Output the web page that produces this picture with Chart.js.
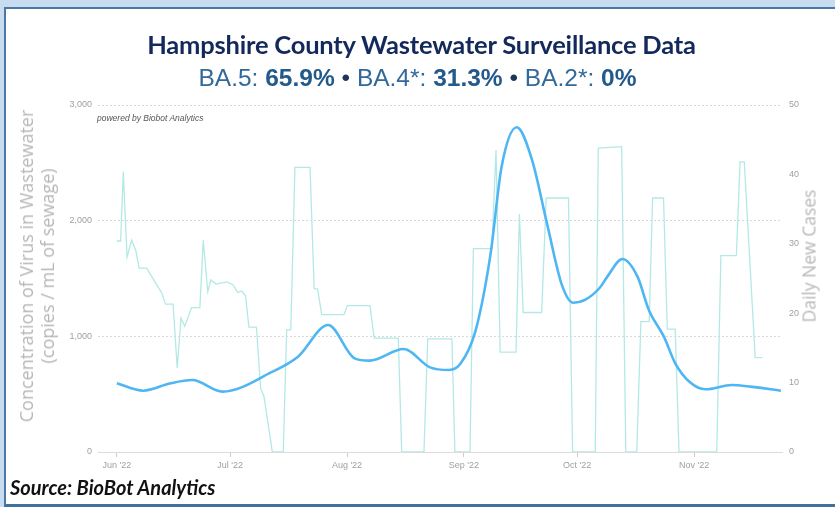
<!DOCTYPE html>
<html>
<head>
<meta charset="utf-8">
<script src="https://cdn.jsdelivr.net/npm/chart.js@4/dist/chart.umd.min.js"></script>
<style>
  html, body { margin: 0; padding: 0; }
  body { width: 835px; height: 507px; background: #c7dcef; position: relative; overflow: hidden; }
  #panel { position: absolute; left: 4px; top: 7px; width: 829px; height: 495px; background: #fff;
           border-left: 2px solid #4a77a3; border-top: 2px solid #4a77a3; border-bottom: 3px solid #41709c; }
  #chart { position: absolute; left: 0; top: 0; }
  .txt { position: absolute; white-space: nowrap; }
  #title { left: 4px; width: 835px; top: 29px; text-align: center; font: bold 25.5px Lato, sans-serif; color: #14295b; line-height: 30px; letter-spacing: -0.2px; }
  #sub { left: 0; width: 835px; top: 64px; text-align: center; font: 24.5px "Liberation Sans", Arial, sans-serif; color: #33699a; line-height: 28px; }
  #sub b { color: #235a8b; }
  #sub .dot { color: #1d3557; }
  #ytitle { left: 37px; top: 266px; transform: translate(-50%, -50%) rotate(-90deg); text-align: center;
            font: 18px "Open Sans", sans-serif; color: #b7b7b7; line-height: 21px; }
  #y1title { left: 809px; top: 256px; transform: translate(-50%, -50%) rotate(-90deg);
             font: 17.5px "Open Sans", sans-serif; color: #b7b7b7; line-height: 21px; }
  #powered { left: 97px; top: 113px; font: italic 8.5px "Liberation Sans", Arial, sans-serif; color: #555; }
  #source { left: 10px; top: 475px; font: bold italic 20px Lato, sans-serif; color: #111; }
</style>
</head>
<body>
<div id="panel"></div>
<canvas id="chart" width="835" height="507"></canvas>
<div class="txt" id="title">Hampshire County Wastewater Surveillance Data</div>
<div class="txt" id="sub">BA.5: <b>65.9%</b> <span class="dot">&bull;</span> BA.4*: <b>31.3%</b> <span class="dot">&bull;</span> BA.2*: <b>0%</b></div>
<div class="txt" id="ytitle">Concentration of Virus in Wastewater<br>(copies / mL of sewage)</div>
<div class="txt" id="y1title">Daily New Cases</div>
<div class="txt" id="powered">powered by Biobot Analytics</div>
<div class="txt" id="source">Source: BioBot Analytics</div>
<script>
// days counted from Jun 1 2022
const monthLabels = ["Jun '22", "Jul '22", "Aug '22", "Sep '22", "Oct '22", "Nov '22"];
const monthDays = [0, 30, 61, 92, 122, 153];

const leftTicks = [0, 1000, 2000, 3000];
const rightTicks = [0, 10, 20, 30, 40, 50];

// wastewater concentration (copies / mL)
const wwDays = [0, 7, 14, 20, 28, 41, 48, 56, 63, 67, 76, 83, 88, 91, 95, 99, 102, 106, 110, 114, 118, 121, 124, 128, 130, 134, 138, 141, 145, 148, 152, 156, 163, 168, 176];
const wwValues = [594, 530, 592, 622, 522, 690, 824, 1098, 810, 790, 890, 732, 709, 760, 1040, 1700, 2470, 2807, 2530, 1977, 1440, 1290, 1314, 1420, 1516, 1669, 1516, 1228, 997, 767, 600, 542, 579, 565, 530];

// daily new cases
const caseDays = [0, 1, 1.7, 2.7, 3.9, 5, 5.9, 7.9, 11.9, 12.9, 14.9, 16, 17, 18, 19.8, 22, 22.9, 24.1, 24.9, 26.3, 29.1, 30.8, 32, 33.1, 34.1, 35, 37, 38.1, 39, 41.2, 44.1, 45, 46.1, 47.2, 51.2, 52.3, 53.2, 54.3, 60.2, 61.1, 67.1, 68.2, 74.6, 75.5, 81.4, 82.4, 88.8, 89.6, 93.6, 94.5, 99.4, 100.5, 101.6, 105.8, 106.7, 107.7, 112.6, 113.8, 119.7, 120.8, 126.8, 127.6, 133.8, 134.9, 137.8, 138.9, 141.1, 142, 144.9, 145.9, 148, 149, 159, 160.1, 164.2, 165.2, 166.3, 169.2, 171.1];
const caseValues = [30.4, 30.4, 40.4, 28.1, 30.5, 29.1, 26.5, 26.5, 22.9, 21.3, 21.3, 12.1, 19.3, 18.1, 20.8, 20.8, 30.5, 23.1, 24.8, 24.2, 24.5, 24.1, 23.0, 23.2, 22.5, 18.0, 18.0, 9.2, 8.0, 0, 0, 17.6, 17.6, 41, 41, 23.5, 23.5, 19.8, 19.8, 21.1, 21.1, 16.4, 16.4, 0, 0, 16.3, 16.3, 0, 0, 29.3, 29.3, 43.5, 14.4, 14.4, 34.3, 20.1, 20.1, 36.6, 36.6, 0, 0, 43.8, 44.0, 0, 0, 18.8, 18.8, 36.6, 36.6, 17.7, 17.7, 0, 0, 28.3, 28.3, 41.8, 41.8, 13.6, 13.6];

const ww = wwDays.map((d, i) => ({ x: d, y: wwValues[i] }));
const cases = caseDays.map((d, i) => ({ x: d, y: caseValues[i] }));

const tickFont = { family: "Liberation Sans, Arial, sans-serif", size: 9 };

new Chart(document.getElementById("chart"), {
  type: "line",
  data: {
    datasets: [
      {
        label: "Wastewater",
        data: ww,
        yAxisID: "y",
        borderColor: "#4fb6f4",
        borderWidth: 2.6,
        pointRadius: 0,
        cubicInterpolationMode: "monotone",
        order: 1,
      },
      {
        label: "Daily New Cases",
        data: cases,
        yAxisID: "y1",
        borderColor: "#b3e9e5",
        borderWidth: 1.3,
        pointRadius: 0,
        tension: 0,
        order: 2,
      },
    ],
  },
  options: {
    responsive: false,
    animation: false,
    layout: { padding: { top: 105, left: 0, right: 0, bottom: 0 } },
    plugins: { legend: { display: false }, tooltip: { enabled: false } },
    scales: {
      x: {
        type: "linear",
        min: -5,
        max: 176.3,
        afterBuildTicks: (s) => { s.ticks = monthDays.map((v) => ({ value: v })); },
        afterFit: (s) => { s.height = 55; },
        ticks: {
          color: "#a0a0a0",
          font: tickFont,
          padding: 3,
          maxRotation: 0,
          callback: (v, i) => monthLabels[i],
        },
        grid: { drawOnChartArea: false, drawTicks: true, tickLength: 5, color: "#ccc" },
        border: { display: true, color: "#dcdcdc", width: 1 },
      },
      y: {
        position: "left",
        min: 0,
        max: 3000,
        afterBuildTicks: (s) => { s.ticks = leftTicks.map((v) => ({ value: v })); },
        afterFit: (s) => { s.width = 98; },
        ticks: {
          color: "#a0a0a0",
          font: tickFont,
          padding: 6,
          callback: (v) => v.toLocaleString("en-US"),
        },
        grid: { drawTicks: false, color: "#d8d8d8", lineWidth: 1 },
        border: { display: false, dash: [2, 2] },
      },
      y1: {
        position: "right",
        min: 0,
        max: 50,
        afterBuildTicks: (s) => { s.ticks = rightTicks.map((v) => ({ value: v })); },
        afterFit: (s) => { s.width = 53; },
        ticks: { color: "#a0a0a0", font: tickFont, padding: 7 },
        grid: { drawOnChartArea: false, drawTicks: false },
        border: { display: false },
      },
    },
  },
});
</script>
</body>
</html>
